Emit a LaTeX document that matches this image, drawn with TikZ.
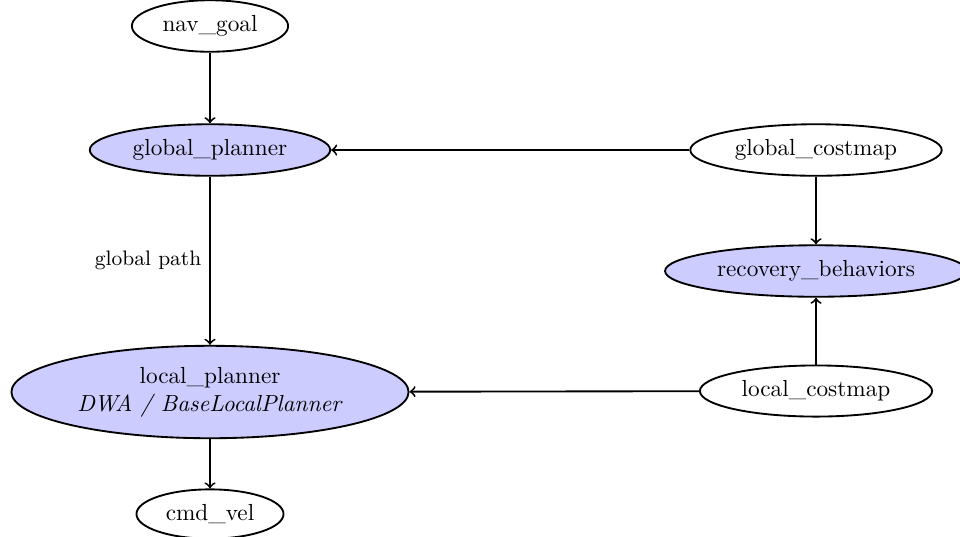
\documentclass[tikz,border=0pt]{standalone}
\usetikzlibrary{shapes.geometric}

\tikzset{
  proc/.style={ellipse, draw, thick, fill=blue!20, align=center},
  topic/.style={ellipse, draw, thick, fill=white, align=center},
  flow/.style={->, thick},
}

\begin{document}
\begin{tikzpicture}[x=0.43pt, y=-0.43pt]
  \useasboundingbox (0,0) rectangle (960,536);

  % left column: goal -> global planner -> local planner -> velocity command
  \node[topic] (goal)   at (210,26)  {nav\_goal};
  \node[proc]  (gplan)  at (210,150) {global\_planner};
  \node[proc]  (lplan)  at (210,392) {local\_planner\\\textit{DWA / BaseLocalPlanner}};
  \node[topic] (cmd)    at (210,514) {cmd\_vel};

  % right column: costmaps and recovery
  \node[topic] (gcost)  at (816,150) {global\_costmap};
  \node[proc]  (recov)  at (816,271) {recovery\_behaviors};
  \node[topic] (lcost)  at (816,391) {local\_costmap};

  \draw[flow] (goal) -- (gplan);
  \draw[flow] (gplan) -- node[left, font=\small] {global path} (lplan);
  \draw[flow] (lplan) -- (cmd);
  \draw[flow] (gcost) -- (gplan);
  \draw[flow] (gcost) -- (recov);
  \draw[flow] (lcost) -- (recov);
  \draw[flow] (lcost) -- (lplan);
\end{tikzpicture}
\end{document}
